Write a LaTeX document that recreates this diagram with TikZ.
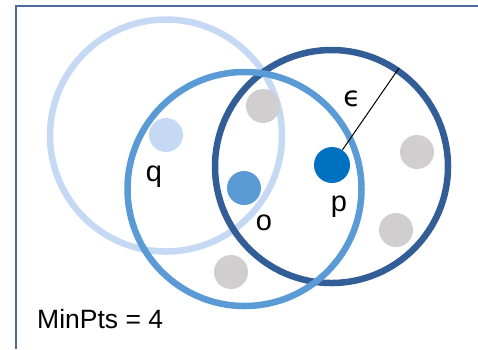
\documentclass[tikz,border=0pt]{standalone}
\usepackage{fontspec}
\setmainfont{Liberation Sans}
\newfontfamily\dvfont{DejaVu Sans}
\definecolor{lightc}{HTML}{C6D9F4}
\definecolor{midc}{HTML}{5B9BD5}
\definecolor{darkc}{HTML}{325D96}
\definecolor{pdot}{HTML}{0070C0}
\definecolor{grayd}{HTML}{D0CECE}
\definecolor{framec}{HTML}{4F6A9E}
\begin{document}
\begin{tikzpicture}[x=1pt,y=-1pt,
  ring/.style={line width=6.5pt},
  dot/.style={circle,inner sep=0pt,minimum size=34pt},
  lbl/.style={font=\fontsize{29}{31}\selectfont,inner sep=0pt,anchor=base}]
\useasboundingbox (0,0) rectangle (478,349);
% frame
\draw[framec,line width=2pt] (15.5,349) -- (15.5,5.5) -- (478,5.5);
% rings
\draw[ring,lightc] (166,135.5) circle (116);
\draw[ring,darkc] (331.5,166.5) circle (116.5);
\draw[ring,midc] (244.5,189) circle (117);
% dots
\node[dot,fill=lightc] (q) at (166,135) {};
\node[dot,fill=midc] (o) at (244,188) {};
\node[dot,fill=pdot,minimum size=36pt] (p) at (332,165) {};
\node[dot,fill=grayd] (g1) at (263,106) {};
\node[dot,fill=grayd] (g2) at (417,152) {};
\node[dot,fill=grayd] (g3) at (396,230) {};
\node[dot,fill=grayd] (g4) at (231,272) {};
% radius line
\coordinate (e) at (399,68);
\draw[black,line width=1pt] (p) -- (e);
% labels
\node[lbl] (lq) at (154,181) {q};
\node[lbl] (lo) at (264,230) {o};
\node[lbl] (lp) at (339,211) {p};
\node[font=\fontsize{28}{30}\selectfont\dvfont,inner sep=0pt,anchor=base] (leps) at (352,106) {ϵ};
\node[font=\fontsize{26.5}{28}\selectfont,inner sep=0pt,anchor=base west] (minpts) at (37,328) {MinPts = 4};
\end{tikzpicture}
\end{document}
